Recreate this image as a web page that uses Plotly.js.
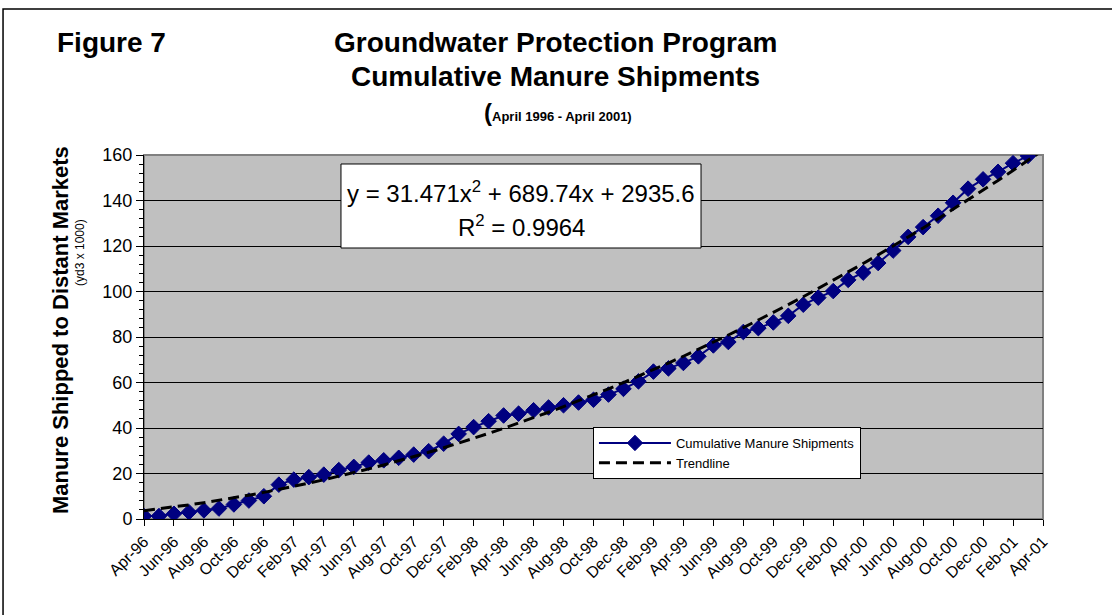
<!DOCTYPE html>
<html>
<head>
<meta charset="utf-8">
<script src="https://cdn.plot.ly/plotly-3.0.1.min.js"></script>
<style>
  html, body { margin: 0; padding: 0; background: #fff; }
  #chart { width: 1112px; height: 615px; }
</style>
</head>
<body>
<div id="chart"></div>
<script>
// Month categories (Apr-96 .. Apr-01)
const months = [
  'Apr-96','May-96','Jun-96','Jul-96','Aug-96','Sep-96','Oct-96','Nov-96','Dec-96',
  'Jan-97','Feb-97','Mar-97','Apr-97','May-97','Jun-97','Jul-97','Aug-97','Sep-97','Oct-97','Nov-97','Dec-97',
  'Jan-98','Feb-98','Mar-98','Apr-98','May-98','Jun-98','Jul-98','Aug-98','Sep-98','Oct-98','Nov-98','Dec-98',
  'Jan-99','Feb-99','Mar-99','Apr-99','May-99','Jun-99','Jul-99','Aug-99','Sep-99','Oct-99','Nov-99','Dec-99',
  'Jan-00','Feb-00','Mar-00','Apr-00','May-00','Jun-00','Jul-00','Aug-00','Sep-00','Oct-00','Nov-00','Dec-00',
  'Jan-01','Feb-01','Mar-01','Apr-01'
];

// Cumulative manure shipments (yd3 x 1000)
const shipments = [
  1.3, 1.3, 2.3, 3.0, 3.8, 4.6, 6.4, 8.1, 10.0,
  15.1, 17.3, 18.4, 19.5, 21.5, 22.9, 24.8, 25.8, 26.9, 28.3, 29.8, 33.1,
  37.4, 40.4, 43.0, 45.5, 46.3, 47.8, 49.0, 50.0, 51.2, 52.4, 54.7, 57.2,
  60.5, 64.8, 66.2, 68.6, 71.5, 76.3, 77.8, 82.2, 83.9, 86.4, 89.3, 94.2,
  97.3, 100.2, 105.1, 108.3, 112.5, 118.0, 124.0, 128.3, 133.3, 139.0, 145.2, 149.3,
  152.6, 156.4, 159.6, 161.2
];

// Polynomial trendline coefficients as printed on the chart (x = 1..n, y in yd3)
const trendCoeffs = [31.471, 689.74, 2935.6];
const rSquared = '0.9964';

// Tick labels shown on the x axis (every second month)
const xTickLabels = months.filter((m, i) => i % 2 === 0);

const yMax = 160;
const trend = months.map((m, i) => {
  const x = i + 1;
  return (trendCoeffs[0] * x * x + trendCoeffs[1] * x + trendCoeffs[2]) / 1000;
});
const markerSizes = shipments.map(v => v > yMax ? 0 : 12);

const FONT = '"Liberation Sans", Arial, sans-serif';

const traces = [
  {
    x: months, y: shipments, type: 'scatter', mode: 'lines+markers',
    name: 'Cumulative Manure Shipments',
    line: { color: '#000080', width: 2 },
    marker: { symbol: 'diamond', color: '#000080', size: markerSizes, opacity: 1,
              line: { color: '#000080', width: 1 } }
  },
  {
    x: months, y: trend, type: 'scatter', mode: 'lines',
    name: 'Trendline',
    line: { color: '#000000', width: 3, dash: '11px,6px' }
  }
];

const eqText = 'y = ' + trendCoeffs[0] + 'x<sup>2</sup> + ' + trendCoeffs[1] + 'x + ' + trendCoeffs[2];

const layout = {
  width: 1112, height: 615,
  margin: { l: 144, r: 69, t: 155, b: 96, pad: 0 },
  paper_bgcolor: '#ffffff',
  plot_bgcolor: '#C0C0C0',
  font: { family: FONT, color: '#000000' },
  showlegend: true,
  legend: {
    x: 0.4994, y: 0.2527, xanchor: 'left', yanchor: 'top',
    bgcolor: '#ffffff', bordercolor: '#000000', borderwidth: 1,
    font: { family: FONT, size: 13, color: '#000' },
    itemwidth: 72, tracegroupgap: 0
  },
  xaxis: {
    type: 'category',
    range: [0, months.length - 1],
    tickmode: 'array', tickvals: xTickLabels, ticktext: xTickLabels,
    tickangle: -45,
    tickfont: { family: FONT, size: 16, color: '#000' },
    ticks: 'outside', ticklen: 6, tickcolor: '#000', tickwidth: 1,
    showline: true, linecolor: '#000', linewidth: 1,
    showgrid: false, zeroline: false, fixedrange: true
  },
  yaxis: {
    range: [0, yMax], dtick: 20, tick0: 0,
    tickfont: { family: FONT, size: 18, color: '#000' },
    ticks: 'outside', ticklen: 7, tickcolor: '#000', tickwidth: 1,
    showline: true, linecolor: '#000', linewidth: 1,
    showgrid: true, gridcolor: '#000000', gridwidth: 1,
    zeroline: false,
    minor: { dtick: 4, ticks: 'outside', ticklen: 4, tickcolor: '#000', showgrid: false },
    fixedrange: true
  },
  shapes: [
    // outer chart border
    { type: 'rect', xref: 'paper', yref: 'paper', x0: -0.1568, x1: 1.2, y0: -0.5, y1: 1.401,
      line: { color: '#000', width: 1.5 }, fillcolor: 'rgba(0,0,0,0)', layer: 'below' },
    // plot-area border (grey)
    { type: 'rect', xref: 'paper', yref: 'paper', x0: 0, x1: 1, y0: 0, y1: 1,
      line: { color: '#808080', width: 2 }, fillcolor: 'rgba(0,0,0,0)', layer: 'below' },
    // equation box
    { type: 'rect', xref: 'paper', yref: 'paper', x0: 0.2191, x1: 0.6196, y0: 0.7445, y1: 0.9753,
      line: { color: '#000', width: 1 }, fillcolor: '#ffffff', layer: 'above' }
  ],
  annotations: [
    { text: '<b>Figure 7</b>', xref: 'paper', yref: 'paper', x: -0.099, y: 1.3104,
      xanchor: 'left', yanchor: 'middle', showarrow: false, font: { family: FONT, size: 28 } },
    { text: '<b>Groundwater Protection Program</b>', xref: 'paper', yref: 'paper', x: 0.4572, y: 1.3104,
      xanchor: 'center', yanchor: 'middle', showarrow: false, font: { family: FONT, size: 28 } },
    { text: '<b>Cumulative Manure Shipments</b>', xref: 'paper', yref: 'paper', x: 0.4572, y: 1.2143,
      xanchor: 'center', yanchor: 'middle', showarrow: false, font: { family: FONT, size: 28 } },
    { text: '<b><span style="font-size:24px">(</span>April 1996 - April 2001)</b>', xref: 'paper', yref: 'paper',
      x: 0.4608, y: 1.1154, xanchor: 'center', yanchor: 'middle', showarrow: false, font: { family: FONT, size: 13 } },
    { text: '<b>Manure Shipped to Distant Markets</b>', xref: 'paper', yref: 'paper', x: -0.0934, y: 0.519,
      xanchor: 'center', yanchor: 'middle', textangle: -90, showarrow: false, font: { family: FONT, size: 22 } },
    { text: '(yd3 x 1000)', xref: 'paper', yref: 'paper', x: -0.0712, y: 0.7335,
      xanchor: 'center', yanchor: 'middle', textangle: -90, showarrow: false, font: { family: FONT, size: 12 } },
    { text: eqText, xref: 'paper', yref: 'paper', x: 0.4194, y: 0.8997,
      xanchor: 'center', yanchor: 'middle', showarrow: false, font: { family: FONT, size: 24 } },
    { text: 'R<sup>2</sup> = ' + rSquared, xref: 'paper', yref: 'paper', x: 0.4194, y: 0.8036,
      xanchor: 'center', yanchor: 'middle', showarrow: false, font: { family: FONT, size: 24 } }
  ]
};

Plotly.newPlot('chart', traces, layout, { staticPlot: true, displayModeBar: false });
</script>
</body>
</html>
